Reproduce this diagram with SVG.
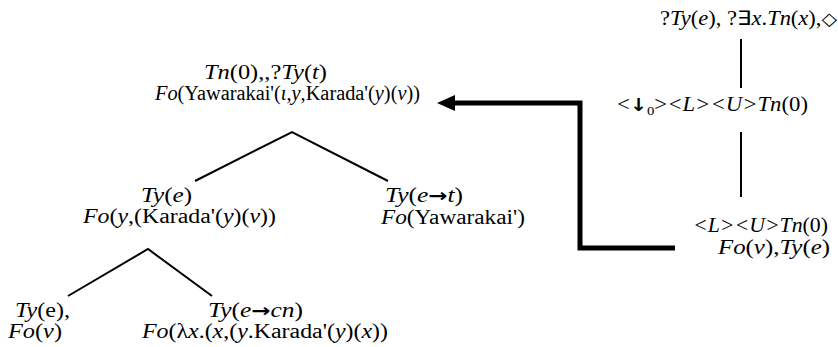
<svg xmlns="http://www.w3.org/2000/svg" width="838" height="347" viewBox="0 0 838 347">
  <style>
    text { font-family: "Liberation Serif", serif; font-size: 20px; fill: #000; }
    .i { font-style: italic; }
    .sym { font-family: "DejaVu Sans", sans-serif; font-size: 18px; font-style: normal; }
    .arr { font-family: "DejaVu Sans", sans-serif; font-size: 18px; font-style: normal; font-weight: bold; }
    .sub { font-size: 13px; }
    .edge { stroke: #000; stroke-width: 2; fill: none; }
    .link { stroke: #000; stroke-width: 5; fill: none; }
  </style>

  <!-- tree edges and the link arrow -->
  <g id="connectors">
    <polyline class="edge" points="195,181 292,132 388,181"/>
    <polyline class="edge" points="68,296 148,249 212,296"/>
    <line class="edge" x1="741" y1="39" x2="741" y2="88"/>
    <line class="edge" x1="741" y1="132" x2="741" y2="197"/>
    <polyline class="link" points="675,248 580,248 580,103 452,103"/>
    <polygon points="437,103 455,95 455,111" fill="#000"/>
  </g>

  <g font-family="'Liberation Serif', serif">
    <g id="root">
      <text x="204" y="79" textLength="123" lengthAdjust="spacingAndGlyphs"><tspan class="i">Tn</tspan>(0),,?<tspan class="i">Ty</tspan>(<tspan class="i">t</tspan>)</text>
      <text x="155" y="100" textLength="265" lengthAdjust="spacingAndGlyphs"><tspan class="i">Fo</tspan>(Yawarakai'(<tspan class="i">ι</tspan>,<tspan class="i">y</tspan>,Karada'(<tspan class="i">y</tspan>)(<tspan class="i">v</tspan>))</text>
    </g>

    <g id="arg-e">
      <text x="141" y="202" textLength="51" lengthAdjust="spacingAndGlyphs"><tspan class="i">Ty</tspan>(<tspan class="i">e</tspan>)</text>
      <text x="83" y="223" textLength="193" lengthAdjust="spacingAndGlyphs"><tspan class="i">Fo</tspan>(<tspan class="i">y</tspan>,(Karada'(<tspan class="i">y</tspan>)(<tspan class="i">v</tspan>))</text>
    </g>

    <g id="pred-et">
      <text x="385" y="202" textLength="78" lengthAdjust="spacingAndGlyphs"><tspan class="i">Ty</tspan>(<tspan class="i">e</tspan><tspan class="arr">→</tspan><tspan class="i">t</tspan>)</text>
      <text x="381" y="224" textLength="144" lengthAdjust="spacingAndGlyphs"><tspan class="i">Fo</tspan>(Yawarakai')</text>
    </g>

    <g id="leaf-v">
      <text x="15" y="317" textLength="55" lengthAdjust="spacingAndGlyphs"><tspan class="i">Ty</tspan>(e),</text>
      <text x="8" y="338" textLength="54" lengthAdjust="spacingAndGlyphs"><tspan class="i">Fo</tspan>(<tspan class="i">v</tspan>)</text>
    </g>

    <g id="leaf-ecn">
      <text x="208" y="317" textLength="95" lengthAdjust="spacingAndGlyphs"><tspan class="i">Ty</tspan>(<tspan class="i">e</tspan><tspan class="arr">→</tspan><tspan class="i">cn</tspan>)</text>
      <text x="142" y="338" textLength="246" lengthAdjust="spacingAndGlyphs"><tspan class="i">Fo</tspan>(λ<tspan class="i">x</tspan>.(<tspan class="i">x</tspan>,(<tspan class="i">y</tspan>.Karada'(<tspan class="i">y</tspan>)(<tspan class="i">x</tspan>))</text>
    </g>

    <g id="linked-top">
      <text x="660" y="25" textLength="177" lengthAdjust="spacingAndGlyphs">?<tspan class="i">Ty</tspan>(<tspan class="i">e</tspan>), ?∃<tspan class="i">x</tspan>.<tspan class="i">Tn</tspan>(<tspan class="i">x</tspan>),<tspan class="sym" font-size="26">◇</tspan></text>
    </g>

    <g id="linked-mid">
      <text x="617" y="111" textLength="191" lengthAdjust="spacingAndGlyphs">&lt;<tspan class="arr">↓</tspan><tspan class="sub" dy="4">0</tspan><tspan dy="-4">&gt;</tspan><tspan class="i">&lt;L&gt;&lt;U&gt;Tn</tspan>(0)</text>
    </g>

    <g id="linked-bottom">
      <text x="693" y="232" textLength="135" lengthAdjust="spacingAndGlyphs"><tspan class="i">&lt;L&gt;&lt;U&gt;Tn</tspan>(0)</text>
      <text x="718" y="254" textLength="112" lengthAdjust="spacingAndGlyphs"><tspan class="i">Fo</tspan>(<tspan class="i">v</tspan>),<tspan class="i">Ty</tspan>(<tspan class="i">e</tspan>)</text>
    </g>
  </g>
</svg>
